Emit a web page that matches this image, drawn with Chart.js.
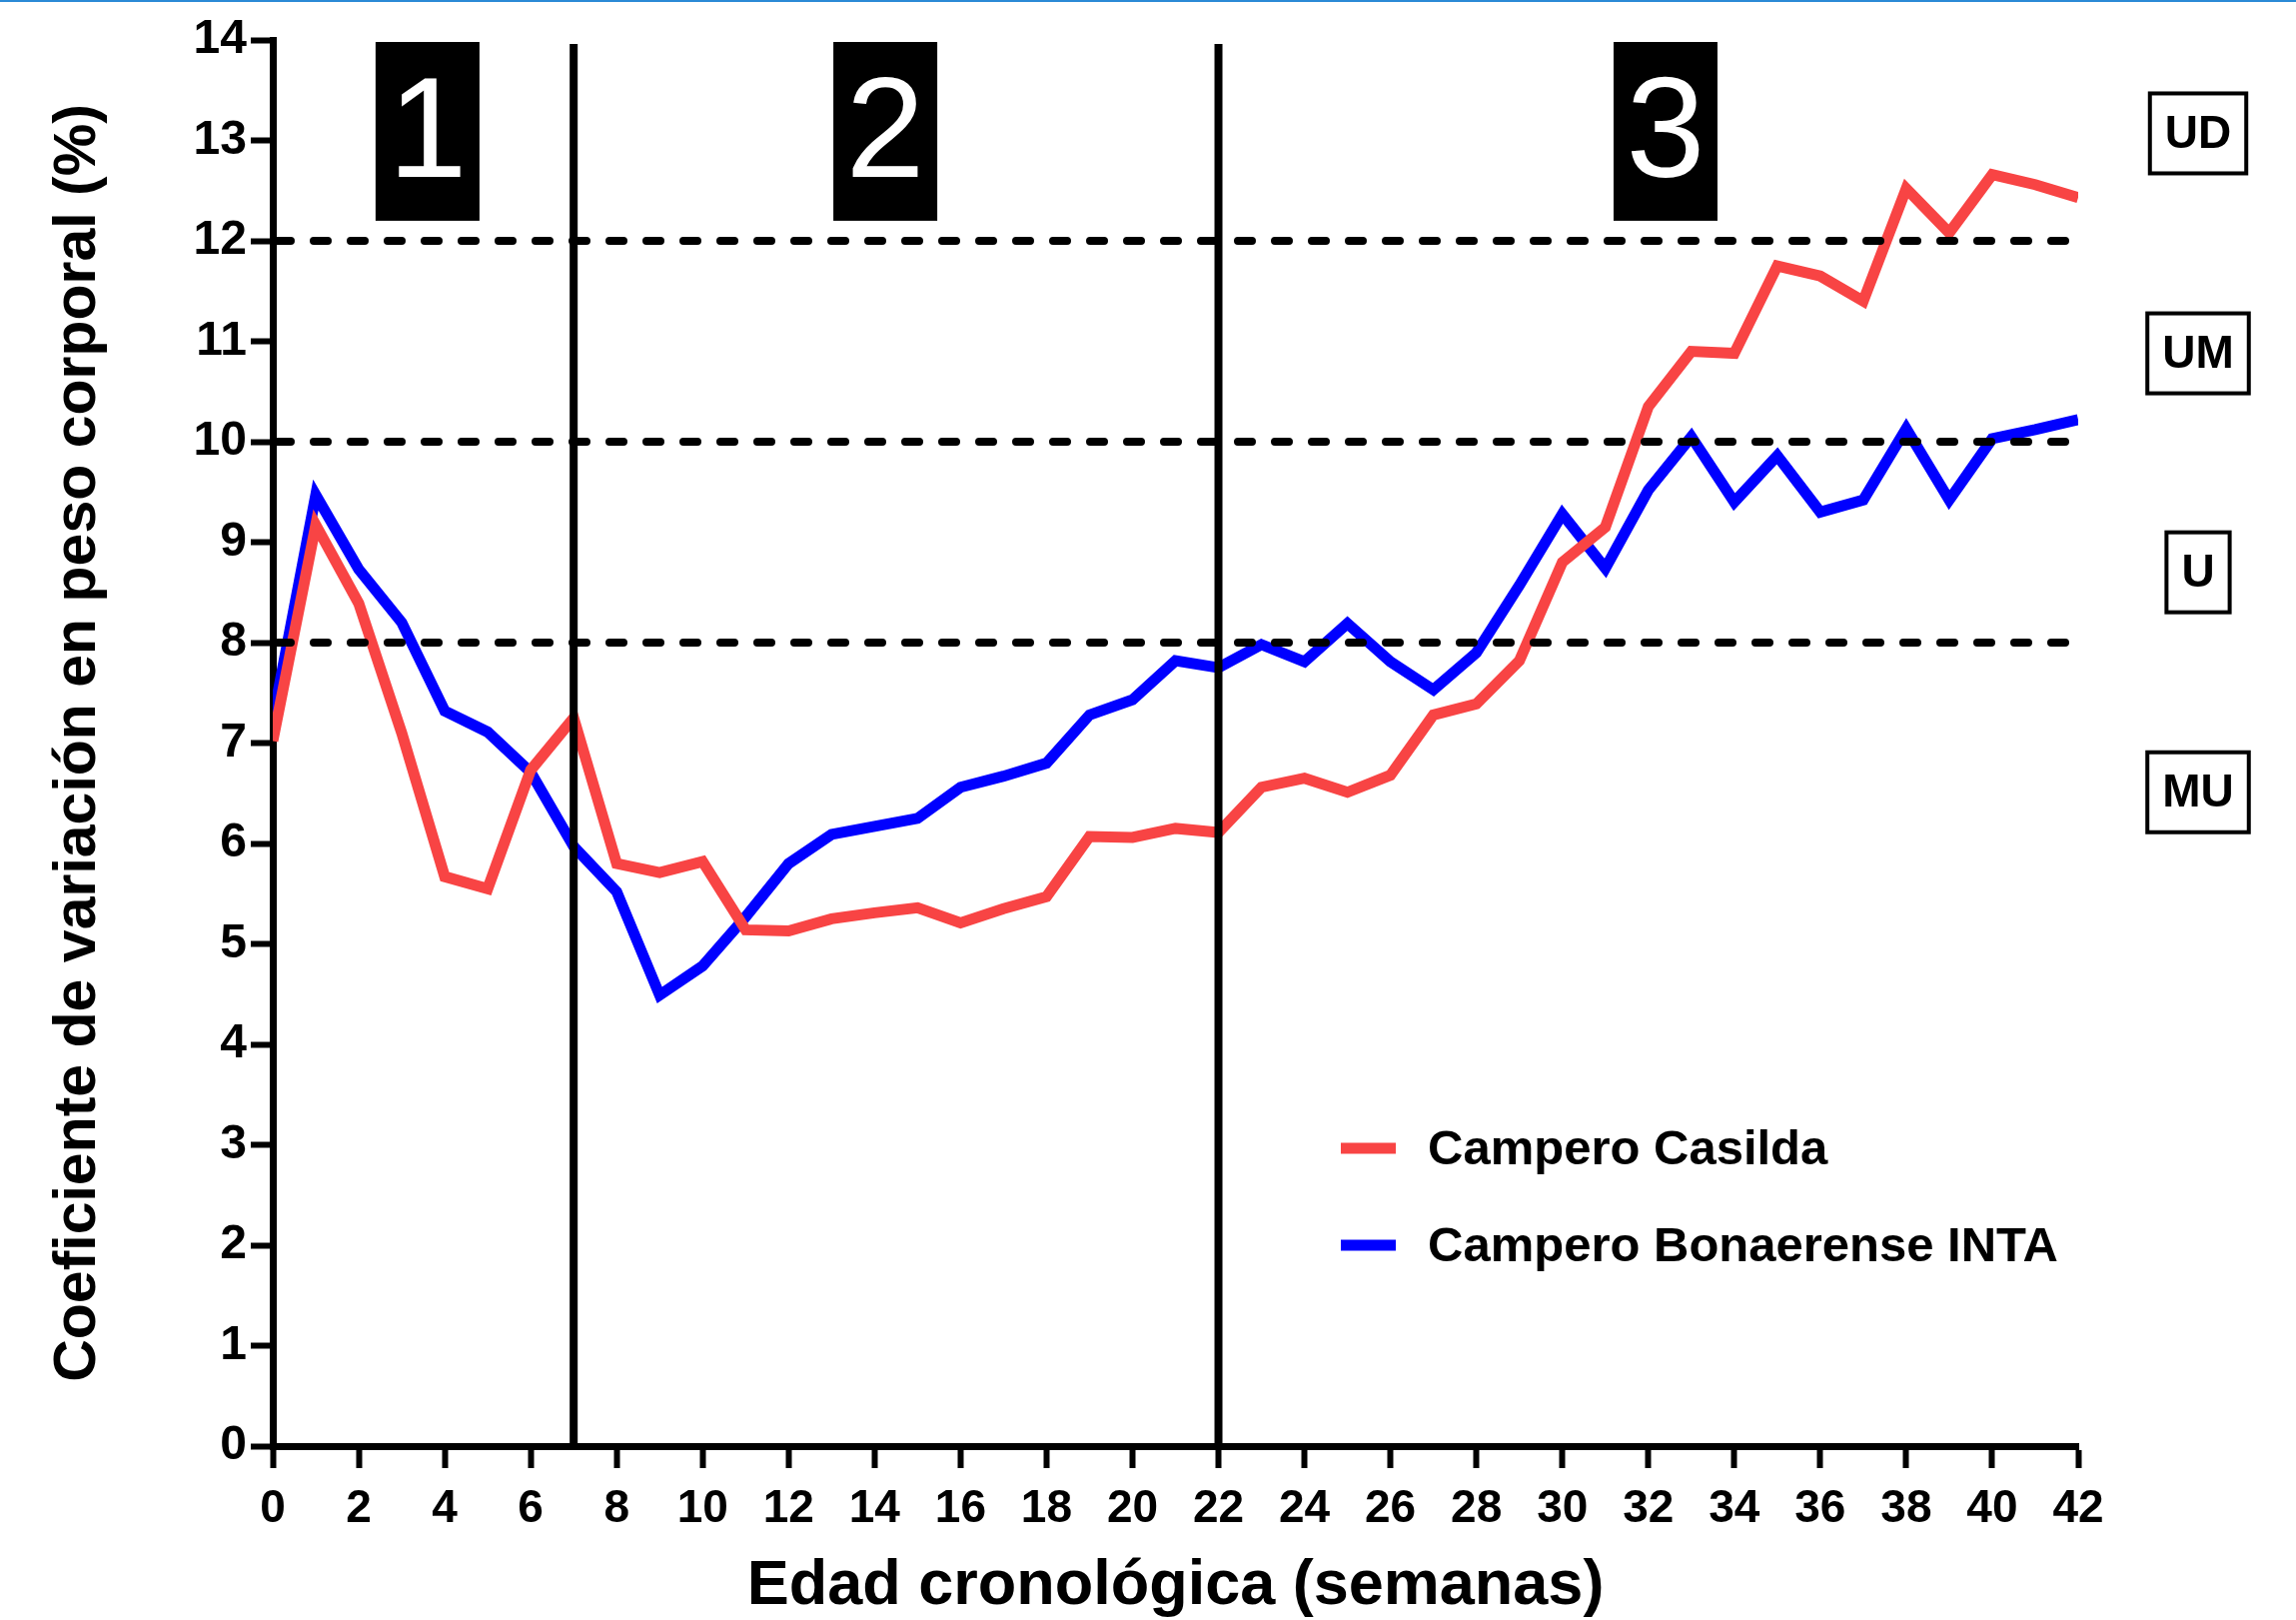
<!DOCTYPE html>
<html>
<head>
<meta charset="utf-8">
<script src="https://cdn.jsdelivr.net/npm/chart.js@4.4.1/dist/chart.umd.min.js"></script>
<style>
  html, body { margin: 0; padding: 0; background: #fff; }
  #wrap { position: relative; width: 2298px; height: 1621px; }
  #topline { position: absolute; left: 0; top: 0; width: 2298px; height: 2px; background: #2b8ad6; }
</style>
</head>
<body>
<div id="wrap">
  <canvas id="cvChart"></canvas>
  <div id="topline"></div>
</div>
<script>
var weeks = [0, 1, 2, 3, 4, 5, 6, 7, 8, 9, 10, 11, 12, 13, 14, 15, 16, 17, 18, 19, 20,
  21, 22, 23, 24, 25, 26, 27, 28, 29, 30, 31, 32, 33, 34, 35, 36, 37, 38, 39, 40, 41, 42];

var casilda = [7.02, 9.17, 8.39, 7.1, 5.67, 5.55, 6.73, 7.25, 5.80, 5.71, 5.82, 5.14, 5.13,
  5.25, 5.31, 5.36, 5.21, 5.35, 5.47, 6.07, 6.06, 6.15, 6.11, 6.56, 6.65, 6.51, 6.68,
  7.28, 7.39, 7.82, 8.80, 9.15, 10.35, 10.90, 10.88, 11.75, 11.65, 11.40, 12.52, 12.08,
  12.66, 12.56, 12.43];

var bonaerense = [7.23, 9.47, 8.73, 8.20, 7.32, 7.11, 6.71, 5.97, 5.52, 4.49, 4.78, 5.27,
  5.80, 6.09, 6.17, 6.25, 6.56, 6.67, 6.80, 7.28, 7.43, 7.82, 7.75, 7.98, 7.81, 8.19,
  7.81, 7.53, 7.90, 8.57, 9.28, 8.74, 9.52, 10.05, 9.40, 9.86, 9.30, 9.42, 10.13, 9.42,
  10.03, 10.12, 10.22];

var thresholds = [8, 10, 12];
var stageBreaks = [7, 22];
var stageLabels = ["1", "2", "3"];
var stageCenters = [3.6, 14.25, 32.4];
var zoneLabels = ["UD", "UM", "U", "MU"];
var zoneCenters = [13.07, 10.88, 8.7, 6.51];

var FONT = "'Liberation Sans', Arial, Helvetica, sans-serif";

function pts(vals) {
  return weeks.map(function (w, i) { return { x: w, y: vals[i] }; });
}

var overlay = {
  id: "overlay",
  afterDatasetsDraw: function (chart) {
    var ctx = chart.ctx;
    var x = chart.scales.x, y = chart.scales.y;
    ctx.save();

    // dashed reference lines
    ctx.strokeStyle = "#000";
    ctx.lineWidth = 8;
    ctx.lineCap = "round";
    ctx.setLineDash([14, 23]);
    thresholds.forEach(function (v) {
      var py = y.getPixelForValue(v);
      ctx.beginPath();
      ctx.moveTo(x.getPixelForValue(0) + 4, py);
      ctx.lineTo(x.getPixelForValue(42), py);
      ctx.stroke();
    });
    ctx.setLineDash([]);
    ctx.lineCap = "butt";

    // stage separators
    ctx.lineWidth = 8;
    stageBreaks.forEach(function (w) {
      var px = x.getPixelForValue(w);
      ctx.beginPath();
      ctx.moveTo(px, y.getPixelForValue(13.96));
      ctx.lineTo(px, y.getPixelForValue(0));
      ctx.stroke();
    });

    // stage number boxes
    var top = y.getPixelForValue(13.98), bot = y.getPixelForValue(12.2);
    ctx.textAlign = "center";
    ctx.textBaseline = "middle";
    ctx.font = "142px " + FONT;
    stageLabels.forEach(function (s, i) {
      var cx = x.getPixelForValue(stageCenters[i]);
      ctx.fillStyle = "#000";
      ctx.fillRect(cx - 52, top, 104, bot - top);
      ctx.fillStyle = "#fff";
      ctx.fillText(s, cx, (top + bot) / 2 + 6);
    });

    // zone labels on the right
    ctx.font = "bold 46px " + FONT;
    ctx.lineWidth = 4;
    zoneLabels.forEach(function (s, i) {
      var cy = y.getPixelForValue(zoneCenters[i]);
      var w = ctx.measureText(s).width + 30;
      var cx = 2200;
      ctx.strokeRect(cx - w / 2, cy - 40, w, 80);
      ctx.fillStyle = "#000";
      ctx.fillText(s, cx, cy + 2);
    });

    // legend
    ctx.textAlign = "left";
    ctx.font = "bold 49px " + FONT;
    var ly = [1149, 1246];
    chart.data.datasets.forEach(function (ds, i) {
      ctx.strokeStyle = ds.borderColor;
      ctx.lineWidth = 11;
      ctx.beginPath();
      ctx.moveTo(1342, ly[i]);
      ctx.lineTo(1397, ly[i]);
      ctx.stroke();
      ctx.fillStyle = "#000";
      ctx.fillText(ds.label, 1429, ly[i] + 2);
    });

    ctx.restore();
  }
};

var ctx = document.getElementById("cvChart");
var myChart = new Chart(ctx, {
  type: "line",
  data: {
    datasets: [
      {
        label: "Campero Casilda",
        data: pts(casilda),
        borderColor: "#f84444",
        borderWidth: 11,
        borderJoinStyle: "miter",
        pointRadius: 0,
        tension: 0,
      },
      {
        label: "Campero Bonaerense INTA",
        data: pts(bonaerense),
        borderColor: "#0000ff",
        borderWidth: 11,
        borderJoinStyle: "miter",
        pointRadius: 0,
        tension: 0,
      },
    ],
  },
  options: {
    responsive: true,
    maintainAspectRatio: false,
    devicePixelRatio: 1,
    animation: false,
    layout: { padding: { left: 0, top: 40, right: 218, bottom: 0 } },
    plugins: {
      legend: { display: false },
      tooltip: { enabled: false },
    },
    scales: {
      x: {
        type: "linear",
        min: 0,
        max: 42,
        afterFit: function (s) { s.height = 174; },
        ticks: {
          stepSize: 2,
          color: "#000",
          padding: 14,
          maxRotation: 0,
          autoSkip: false,
          font: { family: FONT, size: 46, weight: "bold" },
        },
        grid: { drawOnChartArea: false, drawTicks: true, tickLength: 22, tickWidth: 6, tickColor: "#000" },
        border: { display: true, width: 7, color: "#000" },
        title: {
          display: true,
          text: "Edad cronológica (semanas)",
          color: "#000",
          padding: { top: 0, bottom: 0 },
          font: { family: FONT, size: 63, weight: "bold", lineHeight: 1.05 },
        },
      },
      y: {
        min: 0,
        max: 14,
        afterFit: function (s) { s.width = 273; },
        ticks: {
          stepSize: 1,
          color: "#000",
          padding: 4,
          font: { family: FONT, size: 48, weight: "bold" },
        },
        grid: { drawOnChartArea: false, drawTicks: true, tickLength: 22, tickWidth: 6, tickColor: "#000" },
        border: { display: true, width: 7, color: "#000" },
        title: {
          display: true,
          text: "Coeficiente de variación en peso corporal (%)",
          color: "#000",
          padding: { top: 43, bottom: 0 },
          font: { family: FONT, size: 59, weight: "bold", lineHeight: 1.2 },
        },
      },
    },
  },
  plugins: [overlay],
});
</script>
</body>
</html>
